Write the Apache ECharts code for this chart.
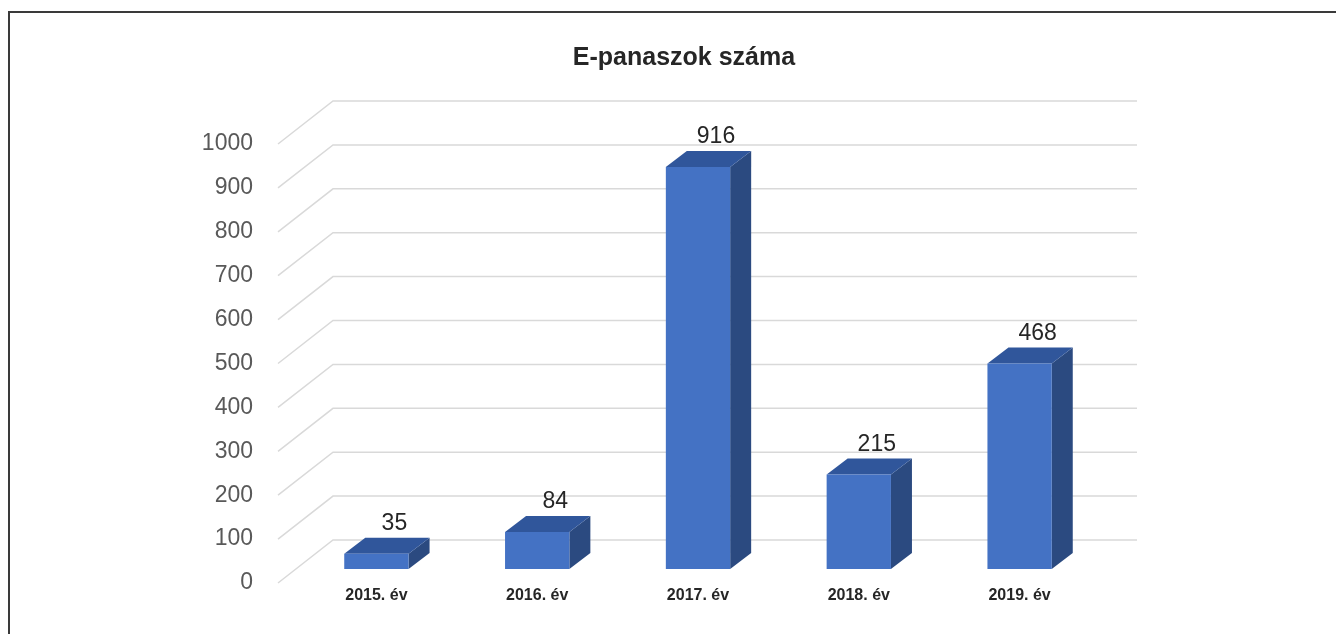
<!DOCTYPE html>
<html>
<head>
<meta charset="utf-8">
<script src="https://cdn.jsdelivr.net/npm/echarts@6/dist/echarts.min.js"></script>
<style>
  html, body { margin: 0; padding: 0; background: #fff; }
  #chart { width: 1336px; height: 634px; }
</style>
</head>
<body>
<div id="chart"></div>
<script>
const categories = ['2015. év', '2016. év', '2017. év', '2018. év', '2019. év']
const values = [35, 84, 916, 215, 468]
const yTicks = [0, 100, 200, 300, 400, 500, 600, 700, 800, 900, 1000]

// perspective offsets (bar front plane is the grid)
const backOff = [37, -29]
const frontOff = [-18, 14]
const depth = [21, -16]

const chart = echarts.init(document.getElementById('chart'))

chart.setOption({
  animation: false,
  title: {
    text: 'E-panaszok száma',
    left: 679,
    top: 41,
    textAlign: 'center',
    textStyle: { fontFamily: 'Liberation Sans', fontWeight: 'bold', fontSize: 25, color: '#262626' }
  },
  graphic: [{
    type: 'rect',
    shape: { x: 9, y: 12, width: 1400, height: 700 },
    style: { fill: 'none', stroke: '#3a3a3a', lineWidth: 2 }
  }],
  grid: { left: 296, right: 236, top: 130, bottom: 65 },
  xAxis: {
    type: 'category',
    data: categories,
    axisLine: { show: false },
    axisTick: { show: false },
    axisLabel: {
      margin: 19,
      fontFamily: '"Liberation Sans", Arial, sans-serif',
      fontWeight: 'bold',
      fontSize: 16,
      color: '#262626'
    }
  },
  yAxis: {
    type: 'value',
    min: 0,
    max: 1000,
    interval: 100,
    axisLine: { show: false },
    axisTick: { show: false },
    splitLine: { show: false },
    axisLabel: { show: false }
  },
  series: [
    {
      type: 'custom',
      silent: true,
      data: yTicks.map(v => [0, v]),
      renderItem: function (params, api) {
        const cs = params.coordSys
        const v = api.value(1)
        const y = api.coord([0, v])[1]
        return {
          type: 'group',
          children: [
            {
              type: 'polyline',
              shape: {
                points: [
                  [cs.x + frontOff[0], y + frontOff[1]],
                  [cs.x + backOff[0], y + backOff[1]],
                  [cs.x + cs.width + backOff[0], y + backOff[1]]
                ]
              },
              style: { stroke: '#d9d9d9', lineWidth: 1.5, fill: null }
            },
            {
              type: 'text',
              style: {
                x: cs.x - 43,
                y: y + frontOff[1],
                text: String(v),
                align: 'right',
                verticalAlign: 'middle',
                font: '23px "Liberation Sans"',
                fill: '#595959'
              }
            }
          ]
        }
      }
    },
    {
      type: 'custom',
      data: values.map((v, i) => [i, v]),
      renderItem: function (params, api) {
        const i = api.value(0)
        const top = api.coord([i, api.value(1)])
        const base = api.coord([i, 0])
        const w = api.size([1, 0])[0] * 0.4
        const x0 = top[0] - w / 2
        const x1 = top[0] + w / 2
        const dx = depth[0], dy = depth[1]
        return {
          type: 'group',
          children: [
            {
              type: 'polygon',
              shape: { points: [[x1, top[1]], [x1 + dx, top[1] + dy], [x1 + dx, base[1] + dy], [x1, base[1]]] },
              style: { fill: '#2b4a80' }
            },
            {
              type: 'polygon',
              shape: { points: [[x0, top[1]], [x0 + dx, top[1] + dy], [x1 + dx, top[1] + dy], [x1, top[1]]] },
              style: { fill: '#30569b' }
            },
            {
              type: 'rect',
              shape: { x: x0, y: top[1], width: w, height: base[1] - top[1] },
              style: { fill: '#4472c4' }
            },
            {
              type: 'text',
              style: {
                x: top[0] + 18,
                y: top[1] - 30,
                text: String(api.value(1)),
                align: 'center',
                verticalAlign: 'middle',
                font: '23px "Liberation Sans"',
                fill: '#262626'
              }
            }
          ]
        }
      }
    }
  ]
})
</script>
</body>
</html>
